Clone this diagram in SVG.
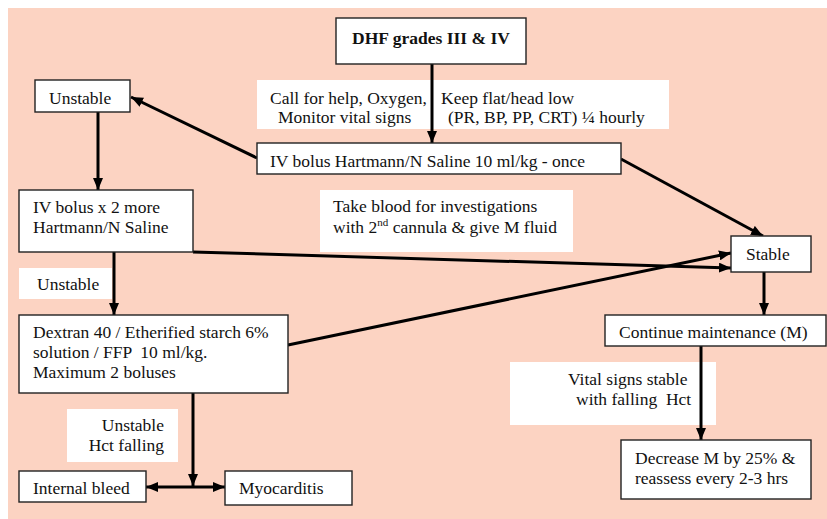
<svg xmlns="http://www.w3.org/2000/svg" width="827" height="519" viewBox="0 0 827 519" font-family="'Liberation Serif', 'DejaVu Serif', serif">
<style>
text{font-family:'Liberation Serif','DejaVu Serif',serif;font-size:17.5px;fill:#111}
.box{fill:#fff;stroke:#222;stroke-width:1.4}
.lbl{fill:#fff;stroke:none}
.c{stroke:#000;stroke-width:3;fill:none}
</style>
<defs>
<marker id="ah" viewBox="0 0 12 10" refX="12" refY="5" markerWidth="12" markerHeight="10" markerUnits="userSpaceOnUse" orient="auto-start-reverse">
<path d="M0,0 L12,5 L0,10 Z" fill="#000"/>
</marker>
</defs>
<rect x="0" y="0" width="827" height="519" fill="#fff"/>
<rect x="8" y="8" width="819" height="511" fill="#FCD3C2"/>

<g id="lbl-call">
<rect class="lbl" x="257" y="80" width="412" height="49"/>
<text x="270" y="104">Call for help, Oxygen,</text>
<text x="278" y="123">Monitor vital signs</text>
<text x="441" y="104">Keep flat/head low</text>
<text x="448" y="123">(PR, BP, PP, CRT) ¼ hourly</text>
</g>
<g id="lbl-blood">
<rect class="lbl" x="320" y="190" width="253" height="62"/>
<text x="333" y="212">Take blood for investigations</text>
<text x="333" y="233">with 2<tspan font-size="11" dy="-7">nd</tspan><tspan dy="7"> cannula &amp; give M fluid</tspan></text>
</g>
<g id="lbl-unstable2">
<rect class="lbl" x="19" y="268" width="93" height="31"/>
<text x="37" y="290">Unstable</text>
</g>
<g id="lbl-hct">
<rect class="lbl" x="67" y="409" width="111" height="53"/>
<text x="164" y="431" text-anchor="end">Unstable</text>
<text x="164" y="451" text-anchor="end">Hct falling</text>
</g>
<g id="lbl-vital">
<rect class="lbl" x="510" y="362" width="206" height="63"/>
<text x="568" y="385">Vital signs stable</text>
<text x="576" y="405" xml:space="preserve">with falling  Hct</text>
</g>

<g id="connectors">
<line class="c" x1="432" y1="64" x2="432" y2="143" marker-end="url(#ah)"/>
<line class="c" x1="257" y1="158" x2="131" y2="97" marker-end="url(#ah)"/>
<line class="c" x1="621" y1="159" x2="763" y2="236" marker-end="url(#ah)"/>
<line class="c" x1="98" y1="112" x2="98" y2="190" marker-end="url(#ah)"/>
<line class="c" x1="193" y1="252" x2="731" y2="268" marker-end="url(#ah)"/>
<line class="c" x1="288" y1="345" x2="731" y2="253" marker-end="url(#ah)"/>
<line class="c" x1="114" y1="252" x2="114" y2="315" marker-end="url(#ah)"/>
<line class="c" x1="193" y1="393" x2="193" y2="486" marker-end="url(#ah)"/>
<line class="c" x1="146" y1="487" x2="225" y2="487" marker-start="url(#ah)" marker-end="url(#ah)"/>
<line class="c" x1="764" y1="272" x2="764" y2="315" marker-end="url(#ah)"/>
<line class="c" x1="701" y1="346" x2="701" y2="440" marker-end="url(#ah)"/>
</g>

<g id="n-dhf">
<rect class="box" x="336" y="18" width="190" height="46"/>
<text x="431" y="44" text-anchor="middle" font-weight="bold">DHF grades III &amp; IV</text>
</g>
<g id="n-unstable">
<rect class="box" x="35" y="80" width="95" height="32"/>
<text x="49" y="104">Unstable</text>
</g>
<g id="n-bolus">
<rect class="box" x="257" y="143" width="364" height="31"/>
<text x="270" y="167">IV bolus Hartmann/N Saline 10 ml/kg - once</text>
</g>
<g id="n-bolus2">
<rect class="box" x="19" y="190" width="174" height="62"/>
<text x="33" y="213">IV bolus x 2 more</text>
<text x="33" y="233">Hartmann/N Saline</text>
</g>
<g id="n-stable">
<rect class="box" x="731" y="236" width="80" height="36"/>
<text x="746" y="260">Stable</text>
</g>
<g id="n-dextran">
<rect class="box" x="19" y="315" width="269" height="78"/>
<text x="33" y="338">Dextran 40 / Etherified starch 6%</text>
<text x="33" y="358" xml:space="preserve">solution / FFP  10 ml/kg.</text>
<text x="33" y="378">Maximum 2 boluses</text>
</g>
<g id="n-continue">
<rect class="box" x="605" y="315" width="221" height="31"/>
<text x="619" y="338">Continue maintenance (M)</text>
</g>
<g id="n-decrease">
<rect class="box" x="621" y="440" width="190" height="59"/>
<text x="635" y="464">Decrease M by 25% &amp;</text>
<text x="635" y="484">reassess every 2-3 hrs</text>
</g>
<g id="n-bleed">
<rect class="box" x="19" y="471" width="127" height="31"/>
<text x="33" y="494">Internal bleed</text>
</g>
<g id="n-myo">
<rect class="box" x="225" y="471" width="127" height="34"/>
<text x="239" y="494">Myocarditis</text>
</g>
</svg>
